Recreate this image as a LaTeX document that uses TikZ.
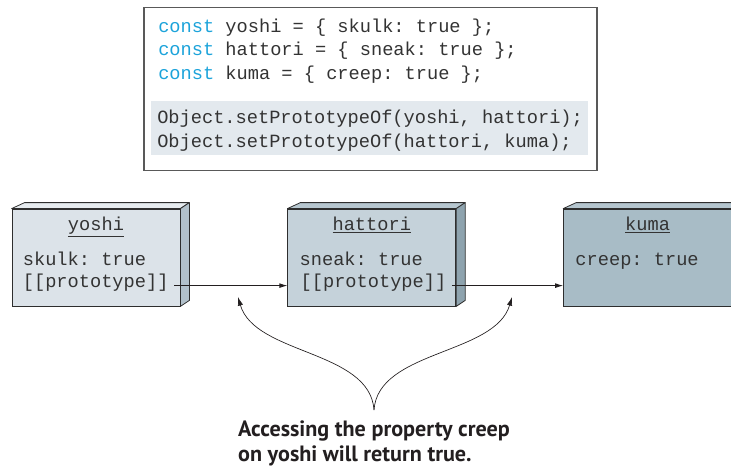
\documentclass[tikz,border=0pt]{standalone}
\usepackage{fontspec}
\setmonofont{Liberation Mono}
\newfontfamily\notefont{PT Sans}
\definecolor{kwblue}{HTML}{1CA3DA}
\definecolor{ink}{HTML}{231F20}
\definecolor{rim}{HTML}{2E2E2E}
\definecolor{hlbg}{HTML}{E3E9EE}
\definecolor{yfront}{HTML}{DCE3E9}
\definecolor{ytop}{HTML}{E6EBEF}
\definecolor{yside}{HTML}{B2C1CB}
\definecolor{hfront}{HTML}{C5D2DA}
\definecolor{htop}{HTML}{B7C7D0}
\definecolor{hside}{HTML}{8EA3AE}
\definecolor{kfront}{HTML}{A8BCC6}
\definecolor{ktop}{HTML}{B5C6CF}
\definecolor{kside}{HTML}{7F95A2}
\usetikzlibrary{arrows.meta,positioning,calc}
\newcommand{\kw}[1]{\textcolor{kwblue}{#1}}
\tikzset{
  codebox/.style={draw=black!65,line width=0.8pt,minimum width=339.75pt,minimum height=122.25pt},
  hl/.style={fill=hlbg,minimum width=327.75pt,minimum height=40.5pt},
  code/.style={font=\fontsize{14}{16}\ttfamily,text=black!80,anchor=base west,inner sep=0pt},
  obj/.style={draw=rim,line width=0.6pt,minimum width=126pt,minimum height=72.75pt},
  face/.style={draw=rim,line width=0.6pt,line join=round},
  link/.style={-{Latex[length=6pt,width=3.6pt]},line width=0.6pt,ink},
  curl/.style={-{Latex[length=6.5pt,width=4pt]},line width=0.5pt,ink},
  note/.style={font=\fontsize{16.6}{18.75}\notefont\bfseries,text=ink,align=left,
               inner xsep=0pt,inner ysep=8pt}
}
\begin{document}
\begin{tikzpicture}[x=0.75pt,y=-0.75pt]
\useasboundingbox (0,0) rectangle (731,469);
\clip (0,0) rectangle (731,469);
% code listing
\node[codebox] (listing) at (370.5,89) {};
\node[hl] (setters) at (369.5,128) {};
\node[code] (c1) at (158,32) {\kw{const} yoshi = \{ skulk: true \};};
\node[code] (c2) at (158,55) {\kw{const} hattori = \{ sneak: true \};};
\node[code] (c3) at (158,79) {\kw{const} kuma = \{ creep: true \};};
\node[code] (c4) at (157,123) {Object.setPrototypeOf(yoshi, hattori);};
\node[code] (c5) at (157,147) {Object.setPrototypeOf(hattori, kuma);};

% the three objects
\node[obj,fill=yfront] (yoshi) at (96,257.5) {};
\node[obj,fill=hfront,right=80.25pt of yoshi] (hattori) {};
\node[obj,fill=kfront,right=80.25pt of hattori] (kuma) {};
\foreach \b/\tp/\sd in {yoshi/ytop/yside,hattori/htop/hside,kuma/ktop/kside}{
  \filldraw[face,fill=\tp] (\b.north west) -- ++(13,-6) -- ($(\b.north east)+(9,-6)$) -- (\b.north east) -- cycle;
  \filldraw[face,fill=\sd] (\b.north east) -- ++(9,-6) -- ($(\b.south east)+(9,-6)$) -- (\b.south east) -- cycle;
}

% contents
\node[code,anchor=base] (ytitle) at ($(yoshi.north)+(0,22)$) {\underline{yoshi}};
\node[code] (yprop) at ($(yoshi.north west)+(11,57)$) {skulk: true};
\node[code] (yproto) at ($(yoshi.north west)+(11,79)$) {[[prototype]]};
\node[code,anchor=base] (htitle) at ($(hattori.north)+(0,22)$) {\underline{hattori}};
\node[code] (hprop) at ($(hattori.north west)+(12,57)$) {sneak: true};
\node[code] (hproto) at ($(hattori.north west)+(13,79)$) {[[prototype]]};
\node[code,anchor=base] (ktitle) at ($(kuma.north)+(0,22)$) {\underline{kuma}};
\node[code] (kprop) at ($(kuma.north west)+(12,57)$) {creep: true};

% prototype links
\draw[link] ([shift={(4pt,1.5pt)}]yproto.base east) -- ([yshift=1.5pt]yproto.base east -| hattori.west);
\draw[link] ([shift={(4pt,1.5pt)}]hproto.base east) -- ([yshift=1.5pt]hproto.base east -| kuma.west);

% callout
\node[note,anchor=north] (note) at (374,410) {Accessing the property creep\\on yoshi will return true.};
\coordinate (ltip) at (238,297);
\coordinate (rtip) at (512,297);
\draw[curl] (note.north) .. controls +(-4,-60) and +(17,58) .. (ltip);
\draw[curl] (note.north) .. controls +(4,-60) and +(-17,58) .. (rtip);
\end{tikzpicture}
\end{document}
